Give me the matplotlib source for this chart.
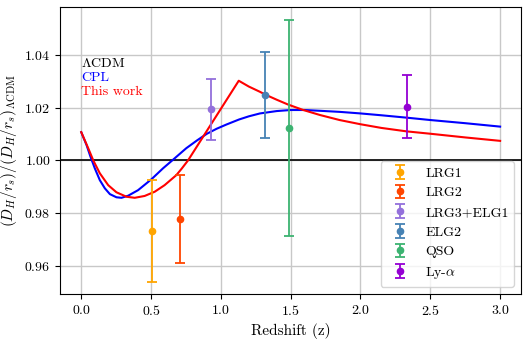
import matplotlib
matplotlib.use('Agg')
import matplotlib.pyplot as plt

plt.rcParams['font.family'] = 'serif'
plt.rcParams['font.serif'] = ['cmr10', 'DejaVu Serif']
plt.rcParams['mathtext.fontset'] = 'cm'
plt.rcParams['axes.formatter.use_mathtext'] = True
plt.rcParams['axes.unicode_minus'] = False

# CPL curve
z_cpl = [0.0, 0.038, 0.066, 0.097, 0.133, 0.169, 0.205, 0.252, 0.288, 0.336,
         0.407, 0.502, 0.586, 0.652, 0.752, 0.83, 0.90, 0.97, 1.04, 1.13, 1.20,
         1.28, 1.40, 1.50, 1.60, 1.71, 1.85, 2.0, 2.15, 2.33, 2.5, 2.75, 3.0]
r_cpl = [1.0107, 1.0058, 1.0014, 0.9970, 0.9925, 0.9894, 0.9872, 0.9860, 0.9858,
         0.9866, 0.9887, 0.9928, 0.9970, 1.0000, 1.0046, 1.0076, 1.0101, 1.0120,
         1.0136, 1.0155, 1.0167, 1.0178, 1.0187, 1.0191, 1.0191, 1.0188, 1.0184,
         1.0178, 1.0171, 1.0162, 1.0153, 1.0141, 1.0128]

# "This work" curve
z_this = [0.0, 0.05, 0.086, 0.133, 0.193, 0.252, 0.324, 0.383, 0.454, 0.526,
          0.597, 0.681, 0.72, 0.765, 1.128, 1.20, 1.28, 1.32, 1.40, 1.48, 1.59,
          1.71, 1.85, 2.0, 2.15, 2.33, 2.5, 2.75, 3.0]
r_this = [1.0107, 1.0046, 1.0000, 0.9951, 0.9906, 0.9879, 0.9862, 0.9858, 0.9865,
          0.9881, 0.9906, 0.9944, 0.9969, 1.0000, 1.0302, 1.0280, 1.0260, 1.0249,
          1.0230, 1.0212, 1.0191, 1.0172, 1.0153, 1.0137, 1.0123, 1.0110, 1.0101,
          1.0087, 1.0074]

# DESI points
labels = ['LRG1', 'LRG2', 'LRG3+ELG1', 'ELG2', 'QSO', r'Ly-$\alpha$']
z_data = [0.51, 0.706, 0.93, 1.317, 1.491, 2.33]
r_data = [0.9732, 0.9778, 1.0194, 1.0248, 1.0122, 1.0203]
r_err = [0.0192, 0.0168, 0.0116, 0.0162, 0.0409, 0.0119]
colors = ['orange', 'orangered', 'mediumpurple', 'steelblue', 'mediumseagreen', 'darkviolet']

fig, ax = plt.subplots(figsize=(5.29, 3.42), dpi=100)
fig.subplots_adjust(left=0.114, right=0.985, top=0.979, bottom=0.141)

ax.plot(z_cpl, r_cpl, color='blue', lw=1.5, zorder=3)
ax.plot(z_this, r_this, color='red', lw=1.5, zorder=3)
ax.axhline(1.0, color='black', lw=1.2, zorder=2)

for z, r, e, c, lab in zip(z_data, r_data, r_err, colors, labels):
    ax.errorbar(z, r, yerr=e, fmt='o', color=c, ms=4.5, lw=1.3,
                capsize=3.5, capthick=1.3, label=lab, zorder=4)

ax.text(0.0, 1.0368, r'$\Lambda$CDM', color='black', fontsize=10, va='center', ha='left')
ax.text(0.0, 1.0313, 'CPL', color='blue', fontsize=10, va='center', ha='left')
ax.text(0.0, 1.0260, 'This work', color='red', fontsize=10, va='center', ha='left')

ax.set_xlim(-0.15, 3.15)
ax.set_ylim(0.9494, 1.0581)
ax.set_xticks([0.0, 0.5, 1.0, 1.5, 2.0, 2.5, 3.0])
ax.set_yticks([0.96, 0.98, 1.00, 1.02, 1.04])
ax.tick_params(labelsize=10)
ax.grid(True, color='#c8c8c8', lw=1.0)
ax.set_axisbelow(True)
ax.set_xlabel('Redshift (z)', fontsize=11)
ax.set_ylabel(r'$(D_H/r_s)/(D_H/r_s)_{\Lambda\mathrm{CDM}}$', fontsize=11)
ax.legend(loc='lower right', fontsize=10, framealpha=0.8)

plt.savefig('out.png', dpi=100, facecolor='white')
plt.close()
